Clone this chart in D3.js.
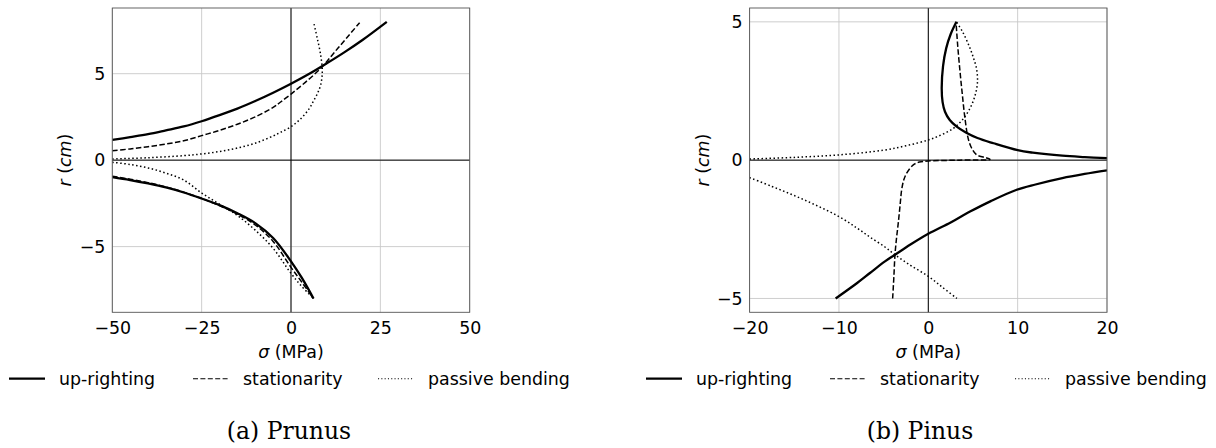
<!DOCTYPE html>
<html>
<head>
<meta charset="utf-8">
<script src="https://cdn.jsdelivr.net/npm/d3@7"></script>
<style>
  body { margin: 0; background: #fff; }
  svg { display: block; }
</style>
</head>
<body>
<svg id="chart" width="1216" height="448"></svg>
<script>
// tick values
const prunusSigmaTicks = [-50, -25, 0, 25, 50];
const pinusSigmaTicks = [-20, -10, 0, 10, 20];
const rTicks = [-5, 0, 5];
const legendLabels = ["up-righting", "stationarity", "passive bending"];
const captions = ["(a) Prunus", "(b) Pinus"];

// Prunus curves, [sigma (MPa), r (cm)]
const prunusUpRightingTop = [[-50, 1.17], [-45, 1.33], [-40, 1.5], [-35, 1.72], [-30, 1.95], [-25, 2.25], [-20, 2.6], [-15, 2.98], [-10, 3.42], [-5, 3.9], [0, 4.42], [5, 4.98], [10, 5.6], [15, 6.25], [20, 6.95], [26.8, 8.0]];
const prunusUpRightingBottom = [[-50, -0.98], [-45, -1.15], [-40, -1.35], [-35, -1.58], [-30, -1.87], [-25, -2.22], [-20, -2.6], [-15, -3.07], [-10, -3.64], [-5, -4.5], [0, -5.85], [3, -6.8], [6.3, -8.0]];
const prunusStationarityTop = [[-50, 0.55], [-45, 0.65], [-40, 0.78], [-35, 0.93], [-30, 1.12], [-25, 1.42], [-20, 1.72], [-15, 2.08], [-10, 2.5], [-5, 3.05], [-3, 3.35], [0, 3.82], [4, 4.5], [8.5, 5.35], [12, 6.2], [15.5, 7.05], [19.2, 7.95]];
const prunusStationarityBottom = [[-50, -0.93], [-45, -1.1], [-40, -1.3], [-35, -1.55], [-30, -1.85], [-25, -2.22], [-20, -2.63], [-15, -3.12], [-10, -3.75], [-5, -4.7], [0, -6.2], [3, -7.05], [6.3, -8.0]];
const prunusPassiveTop = [[-50, 0.07], [-40, 0.14], [-30, 0.26], [-25, 0.36], [-20, 0.5], [-15, 0.7], [-10, 0.98], [-5, 1.4], [-3, 1.6], [0, 1.94], [2.5, 2.35], [5, 2.95], [6.2, 3.38], [7.5, 3.9], [8.3, 4.35], [8.76, 5.11], [8.3, 6.08], [7.36, 7.04], [6.3, 8.0]];
const prunusPassiveBottom = [[-50, -0.12], [-45, -0.25], [-40, -0.45], [-35, -0.75], [-30, -1.15], [-25, -1.9], [-20, -2.55], [-15, -3.2], [-10, -4.05], [-5, -5.1], [0, -6.55], [3, -7.3], [6.3, -8.0]];

// Pinus curves, [sigma (MPa), r (cm)]
const pinusUpRightingTop = [[3.15, 5.0], [2.5, 4.55], [2.0, 4.04], [1.65, 3.4], [1.5, 2.6], [1.6, 2.1], [1.87, 1.75], [2.4, 1.45], [3.18, 1.21], [4.2, 1.0], [5.5, 0.8], [7.3, 0.61], [10, 0.36], [11.7, 0.27], [15, 0.16], [17.5, 0.11], [20, 0.07]];
const pinusUpRightingBottom = [[-10.37, -5.0], [-8, -4.45], [-6.53, -4.08], [-4.85, -3.66], [-3.73, -3.42], [-2, -3.05], [0, -2.66], [2.5, -2.25], [4.67, -1.86], [7, -1.48], [9.9, -1.07], [12, -0.88], [15, -0.65], [17.5, -0.5], [20, -0.37]];
const pinusStationarity = [[-3.99, -5.0], [-3.85, -4.2], [-3.73, -3.42], [-3.55, -2.8], [-3.36, -2.27], [-3.15, -1.6], [-2.98, -1.07], [-2.75, -0.72], [-2.42, -0.47], [-1.68, -0.17], [-1.0, -0.07], [0, -0.03], [3.5, 0.0], [6.9, 0.03], [6.3, 0.1], [5.42, 0.19], [4.86, 0.43], [4.48, 0.76], [4.1, 1.52], [3.8, 2.4], [3.55, 3.2], [3.3, 4.1], [3.1, 5.0]];
const pinusPassiveTop = [[-20, 0.04], [-15, 0.1], [-10, 0.19], [-5, 0.36], [-2.5, 0.52], [0, 0.73], [1.5, 0.92], [2.8, 1.15], [3.8, 1.45], [4.67, 1.88], [5.2, 2.3], [5.5, 2.8], [5.4, 3.3], [5.0, 3.75], [4.6, 4.1], [3.9, 4.6], [3.15, 5.0]];
const pinusPassiveBottom = [[-20, -0.63], [-17.5, -0.95], [-15, -1.28], [-12.5, -1.64], [-10, -2.04], [-8, -2.45], [-6.53, -2.78], [-4.85, -3.14], [-3.73, -3.42], [-2, -3.8], [0, -4.2], [1.6, -4.6], [3.2, -5.0]];

const styles = [
  { width: 2.3, dash: null },
  { width: 1.5, dash: "5.5,2.4" },
  { width: 1.5, dash: "1.5,2.5" },
];

const panels = [
  {
    left: 112.3, xDomain: [-50, 50], yDomain: [-8.8, 8.8], xTicks: prunusSigmaTicks,
    series: [
      [prunusUpRightingTop, 0], [prunusUpRightingBottom, 0],
      [prunusStationarityTop, 1], [prunusStationarityBottom, 1],
      [prunusPassiveTop, 2], [prunusPassiveBottom, 2],
    ],
    legendX: [9, 193, 378], caption: captions[0], captionX: 289,
  },
  {
    left: 749.6, xDomain: [-20, 20], yDomain: [-5.5, 5.5], xTicks: pinusSigmaTicks,
    series: [
      [pinusUpRightingTop, 0], [pinusUpRightingBottom, 0],
      [pinusStationarity, 1],
      [pinusPassiveTop, 2], [pinusPassiveBottom, 2],
    ],
    legendX: [646, 830, 1015], caption: captions[1], captionX: 920,
  },
];

const plotW = 357.4;
const plotTop = 8;
const plotH = 304.3;
const font = "DejaVu Sans, sans-serif";
const fontSize = "17.4px";

const svg = d3.select("#chart");

panels.forEach((p, i) => {
  const x = d3.scaleLinear().domain(p.xDomain).range([0, plotW]);
  const y = d3.scaleLinear().domain(p.yDomain).range([plotH, 0]);

  const g = svg.append("g").attr("transform", `translate(${p.left},${plotTop})`);

  g.append("clipPath").attr("id", `clip${i}`)
    .append("rect").attr("width", plotW).attr("height", plotH);

  // grid
  g.append("g").selectAll("line").data(p.xTicks).join("line")
    .attr("x1", d => x(d)).attr("x2", d => x(d))
    .attr("y1", 0).attr("y2", plotH)
    .attr("stroke", "#c8c8c8").attr("stroke-width", 0.9);
  g.append("g").selectAll("line").data(rTicks).join("line")
    .attr("x1", 0).attr("x2", plotW)
    .attr("y1", d => y(d)).attr("y2", d => y(d))
    .attr("stroke", "#c8c8c8").attr("stroke-width", 0.9);

  // zero lines
  g.append("line").attr("x1", x(0)).attr("x2", x(0)).attr("y1", 0).attr("y2", plotH)
    .attr("stroke", "#000").attr("stroke-width", 1);
  g.append("line").attr("x1", 0).attr("x2", plotW).attr("y1", y(0)).attr("y2", y(0))
    .attr("stroke", "#000").attr("stroke-width", 1);

  // curves
  const line = d3.line().x(d => x(d[0])).y(d => y(d[1])).curve(d3.curveCatmullRom.alpha(0.5));
  const curves = g.append("g").attr("clip-path", `url(#clip${i})`);
  p.series.forEach(([data, s]) => {
    curves.append("path")
      .attr("d", line(data))
      .attr("fill", "none")
      .attr("stroke", "#000")
      .attr("stroke-width", styles[s].width)
      .attr("stroke-dasharray", styles[s].dash);
  });

  // frame
  g.append("rect").attr("width", plotW).attr("height", plotH)
    .attr("fill", "none").attr("stroke", "#555").attr("stroke-width", 0.9);

  // axes
  const xAxis = g.append("g").attr("transform", `translate(0,${plotH})`)
    .call(d3.axisBottom(x).tickValues(p.xTicks).tickSize(0).tickPadding(9));
  const yAxis = g.append("g")
    .call(d3.axisLeft(y).tickValues(rTicks).tickSize(0).tickPadding(7));
  [xAxis, yAxis].forEach(a => {
    a.select(".domain").remove();
    a.selectAll("text").attr("fill", "#000").style("font-family", font).style("font-size", fontSize);
  });

  // axis labels
  const xl = svg.append("text")
    .attr("x", p.left + plotW / 2).attr("y", 358)
    .attr("text-anchor", "middle")
    .style("font-family", font).style("font-size", fontSize);
  xl.append("tspan").style("font-style", "italic").text("σ");
  xl.append("tspan").text(" (MPa)");

  const yl = svg.append("text")
    .attr("transform", `translate(${p.left - 41},${plotTop + plotH / 2}) rotate(-90)`)
    .attr("text-anchor", "middle")
    .style("font-family", font).style("font-size", fontSize);
  yl.append("tspan").style("font-style", "italic").text("r");
  yl.append("tspan").text(" (");
  yl.append("tspan").style("font-style", "italic").text("cm");
  yl.append("tspan").text(")");

  // legend
  legendLabels.forEach((label, k) => {
    const lx = p.legendX[k];
    svg.append("line")
      .attr("x1", lx).attr("x2", lx + 36).attr("y1", 378.7).attr("y2", 378.7)
      .attr("stroke", "#000")
      .attr("stroke-width", k === 0 ? 2.3 : 1.1)
      .attr("stroke-dasharray", k === 1 ? "5,2.4" : k === 2 ? "1.1,2.2" : null);
    svg.append("text")
      .attr("x", lx + 50).attr("y", 385)
      .style("font-family", font).style("font-size", fontSize)
      .text(label);
  });

  // caption
  svg.append("text")
    .attr("x", p.captionX).attr("y", 439)
    .attr("text-anchor", "middle")
    .style("font-family", "DejaVu Serif, serif").style("font-size", "23.5px")
    .text(p.caption);
});
</script>
</body>
</html>
